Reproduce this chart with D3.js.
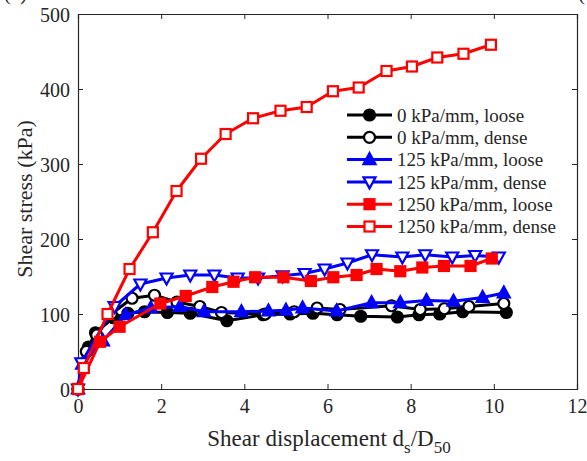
<!DOCTYPE html>
<html lang="en">
<head>
<meta charset="UTF-8">
<title>Shear stress</title>
<script src="https://d3js.org/d3.v7.min.js"></script>
<style>
  body { margin: 0; background: #fff; }
  text { font-family: "Liberation Serif", "Times New Roman", serif; fill: #262626; }
</style>
</head>
<body>
<script>
// data (x = ds/D50, y = shear stress kPa)
var blackLoose = [[0,0],[0.25,56],[0.42,75],[0.85,95],[1.2,101],[1.6,103],[2.15,102],[2.7,101],[3.58,91],[4.45,99],[5.1,100],[5.65,101],[6.23,99],[6.8,97],[7.68,96],[8.2,99],[8.7,100],[9.25,103],[10.3,102]];
var blackDense = [[0,0],[0.2,50],[0.45,72],[0.8,100],[1.3,121],[1.84,125],[2.38,116],[2.93,110],[3.45,102],[4.5,100],[5.2,103],[5.75,108],[6.3,106],[7.54,111],[8.23,106],[8.81,107],[9.4,110],[10.24,114]];
var blueLoose = [[0,0],[0.1,33],[0.6,64],[1.15,99],[1.75,108],[2.45,110],[3.03,103],[3.93,103],[4.58,104],[5.0,105],[5.4,108],[6.22,104],[7.06,115],[7.75,115],[8.38,118],[9.03,117],[9.73,122],[10.24,128]];
var blueDense = [[0,0],[0.08,35],[0.88,110],[1.5,140],[2.13,148],[2.7,152],[3.28,152],[3.84,148],[4.33,148],[4.92,151],[5.45,154],[5.93,160],[6.48,168],[7.07,179],[7.8,176],[8.35,179],[9.0,176],[9.55,178],[10.12,176]];
var redLoose = [[0,0],[0.53,63],[1.0,83],[1.98,114],[2.59,124],[3.23,136],[3.74,143],[4.26,149],[4.94,149],[5.6,144],[6.14,149],[6.7,152],[7.18,160],[7.75,157],[8.28,162],[8.8,164],[9.44,164],[9.95,174]];
var redDense = [[0,0],[0.14,28],[0.71,100],[1.24,160],[1.8,209],[2.37,264],[2.96,307],[3.55,340],[4.21,361],[4.87,371],[5.5,376],[6.13,397],[6.75,402],[7.42,424],[8.03,430],[8.64,442],[9.27,447],[9.93,459]];

var seriesNames = ["0 kPa/mm, loose","0 kPa/mm, dense","125 kPa/mm, loose","125 kPa/mm, dense","1250 kPa/mm, loose","1250 kPa/mm, dense"];
var seriesData = [blackLoose, blackDense, blueLoose, blueDense, redLoose, redDense];
var seriesColor = ["#000000","#000000","#0000ff","#0000ff","#ff0000","#ff0000"];
var seriesMarker = ["circle","circle","triUp","triDown","square","square"];
var seriesFilled = [true,false,true,false,true,false];

var xTicks = [0,2,4,6,8,10,12];
var yTicks = [0,100,200,300,400,500];

var width = 587, height = 461;
var m = {left: 78, right: 10, top: 14, bottom: 72};

var svg = d3.select("body").append("svg").attr("width", width).attr("height", height);

var x = d3.scaleLinear().domain([0, 12]).range([m.left, width - m.right]);
var y = d3.scaleLinear().domain([0, 500]).range([height - m.bottom, m.top]);

// axes box with inward ticks
var axisColor = "#262626";
var gx = svg.append("g").attr("transform", "translate(0," + y(0) + ")")
  .call(d3.axisBottom(x).tickValues(xTicks).tickSize(-5).tickPadding(10));
var gxTop = svg.append("g").attr("transform", "translate(0," + y(500) + ")")
  .call(d3.axisTop(x).tickValues(xTicks).tickSize(-5).tickFormat(""));
var gy = svg.append("g").attr("transform", "translate(" + x(0) + ",0)")
  .call(d3.axisLeft(y).tickValues(yTicks).tickSize(-5).tickPadding(8));
var gyR = svg.append("g").attr("transform", "translate(" + x(12) + ",0)")
  .call(d3.axisRight(y).tickValues(yTicks).tickSize(-5).tickFormat(""));

[gx, gxTop, gy, gyR].forEach(function(g) {
  g.selectAll("path.domain").attr("stroke", axisColor).attr("stroke-width", 1.2);
  g.selectAll(".tick line").attr("stroke", axisColor).attr("stroke-width", 1);
  g.selectAll(".tick text").style("font-family", "Liberation Serif, serif").style("font-size", "20px").attr("fill", axisColor);
});
gy.selectAll(".tick text").attr("dy", "0.35em");

// markers
function drawMarker(g, type, cx, cy, color, filled) {
  var s;
  if (type === "circle") {
    s = g.append("circle").attr("cx", cx).attr("cy", cy).attr("r", 5.5);
  } else if (type === "square") {
    s = g.append("rect").attr("x", cx - 5).attr("y", cy - 5).attr("width", 10).attr("height", 10);
  } else if (type === "triUp") {
    s = g.append("path").attr("d", "M" + cx + "," + (cy - 6.5) + "L" + (cx + 6) + "," + (cy + 4.5) + "L" + (cx - 6) + "," + (cy + 4.5) + "Z");
  } else {
    s = g.append("path").attr("d", "M" + cx + "," + (cy + 6.5) + "L" + (cx + 6) + "," + (cy - 4.5) + "L" + (cx - 6) + "," + (cy - 4.5) + "Z");
  }
  s.attr("fill", filled ? color : "#fff").attr("stroke", color).attr("stroke-width", 2.2);
}

var line = d3.line().x(function(d) { return x(d[0]); }).y(function(d) { return y(d[1]); });

seriesData.forEach(function(data, i) {
  var g = svg.append("g");
  g.append("path").datum(data).attr("d", line)
    .attr("fill", "none").attr("stroke", seriesColor[i]).attr("stroke-width", 3)
    .attr("stroke-linejoin", "round");
  data.forEach(function(d) {
    drawMarker(g, seriesMarker[i], x(d[0]), y(d[1]), seriesColor[i], seriesFilled[i]);
  });
});

// legend
var lg = svg.append("g");
seriesNames.forEach(function(name, i) {
  var ly = 115 + i * 22.3;
  lg.append("line").attr("x1", 347).attr("x2", 392).attr("y1", ly).attr("y2", ly)
    .attr("stroke", seriesColor[i]).attr("stroke-width", 3);
  drawMarker(lg, seriesMarker[i], 369.5, ly, seriesColor[i], seriesFilled[i]);
  lg.append("text").attr("x", 397).attr("y", ly).attr("dy", "0.35em")
    .style("font-size", "19px").text(name);
});

// axis labels
var xl = svg.append("text").attr("x", 329).attr("y", 446).attr("text-anchor", "middle")
  .style("font-size", "23px");
xl.append("tspan").text("Shear displacement d");
xl.append("tspan").attr("dy", 7).style("font-size", "17px").text("s");
xl.append("tspan").attr("dy", -7).text("/D");
xl.append("tspan").attr("dy", 7).style("font-size", "17px").text("50");

svg.append("text").attr("transform", "translate(32,199) rotate(-90)")
  .attr("text-anchor", "middle").style("font-size", "22px").text("Shear stress (kPa)");

// cropped panel labels at the top corners
svg.append("text").attr("x", 27).attr("y", 0).attr("text-anchor", "end").style("font-size", "21px").text("(a)");
svg.append("text").attr("x", 578).attr("y", 0).style("font-size", "21px").text("(b)");
</script>
</body>
</html>
